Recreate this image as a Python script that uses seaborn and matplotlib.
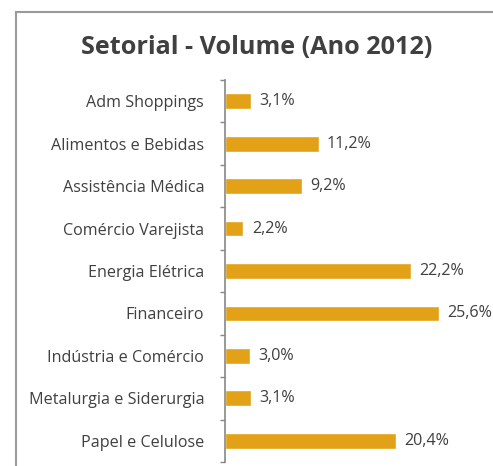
import matplotlib
matplotlib.use("Agg")
import matplotlib.pyplot as plt
import matplotlib.patches as mpatches
import seaborn as sns
import pandas as pd
import numpy as np

categorias = ["Adm Shoppings", "Alimentos e Bebidas", "Assistência Médica",
              "Comércio Varejista", "Energia Elétrica", "Financeiro",
              "Indústria e Comércio", "Metalurgia e Siderurgia", "Papel e Celulose"]
valores = [3.1, 11.2, 9.2, 2.2, 22.2, 25.6, 3.0, 3.1, 20.4]
rotulos = ["3,1%", "11,2%", "9,2%", "2,2%", "22,2%", "25,6%", "3,0%", "3,1%", "20,4%"]
titulo = "Setorial - Volume (Ano 2012)"

df = pd.DataFrame({"setor": categorias, "valor": valores})

sns.set_theme(style="white")
plt.rcParams['font.family'] = ['Open Sans', 'DejaVu Sans']

W, H = 493, 466
fig = plt.figure(figsize=(W / 100, H / 100), dpi=100)
ax = fig.add_axes([225 / W, 1 - 462 / H, (460 - 225) / W, (462 - 80) / H])

sns.barplot(data=df, y="setor", x="valor", orient="h", color="#E2A116",
            saturation=1, width=0.37, ax=ax)

ax.set_xlim(0, (460 - 225) / 8.36)
ax.set_ylim(len(categorias) - 0.5, -0.5)
ax.set_xlabel("")
ax.set_ylabel("")
ax.set_xticks([])

txt = "#404040"
for i, (v, r) in enumerate(zip(valores, rotulos)):
    ax.text(v + 1.0, i, r, va="center", ha="left", fontsize=11.6,
            color=txt, clip_on=False)

ax.set_yticks(range(len(categorias)))
ax.set_yticklabels(categorias, fontsize=11.6, color=txt)
ax.set_yticks(np.arange(-0.5, len(categorias), 1.0), minor=True)
ax.tick_params(axis="y", which="major", length=0, pad=15)
ax.tick_params(axis="y", which="minor", length=3.5, width=1, color="#888888",
               direction="out", left=True)

for s in ["top", "right", "bottom"]:
    ax.spines[s].set_visible(False)
ax.spines["left"].set_color("#888888")
ax.spines["left"].set_linewidth(1.2)

# outer frame (cropped at right/bottom)
frame = mpatches.Rectangle((15.5 / W, -0.1), 1.2, 1 - 11.5 / H + 0.1,
                           transform=fig.transFigure, fill=False,
                           edgecolor="#9a9a9a", linewidth=1.5)
fig.patches.append(frame)

fig.text(257 / W, 1 - 47 / H, titulo, ha="center", va="center",
         fontsize=18.2, fontweight="bold", color=txt)

fig.savefig("out.png", dpi=100)
